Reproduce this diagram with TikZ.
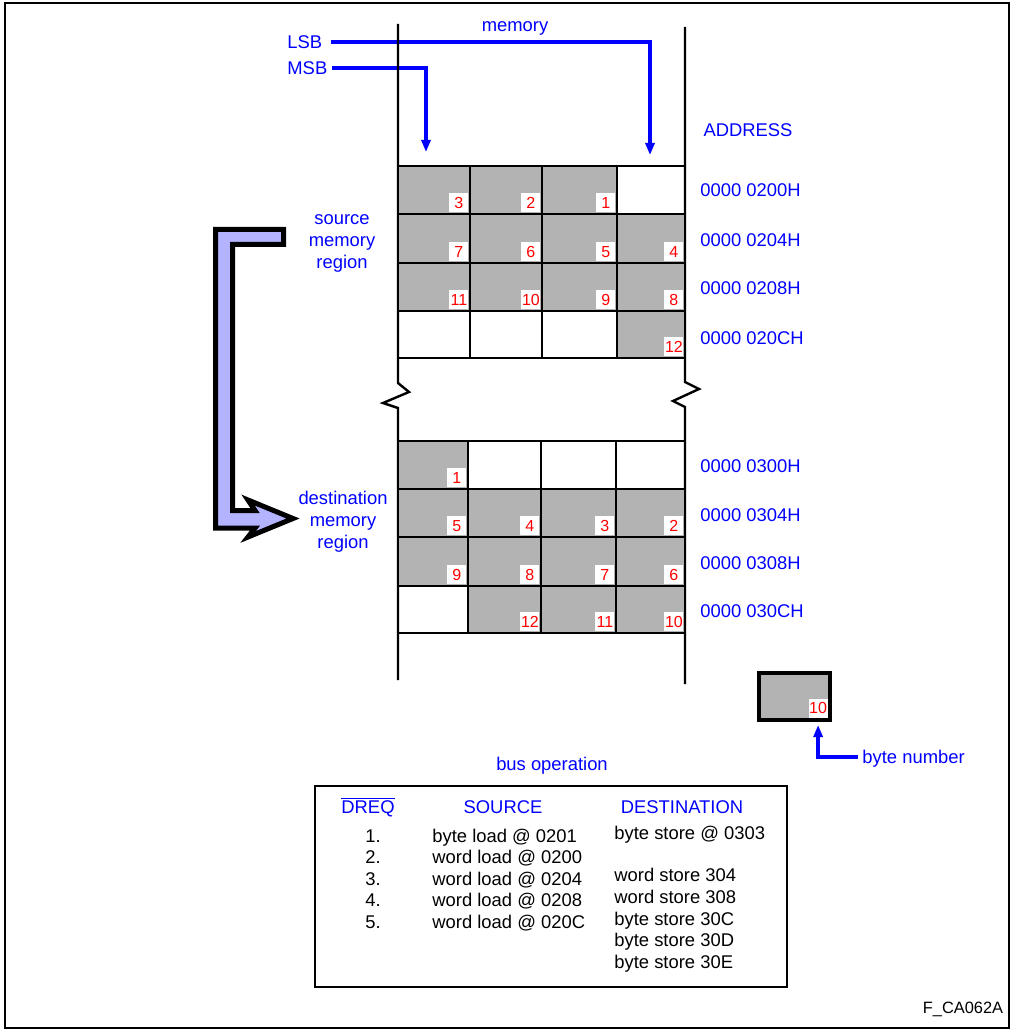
\documentclass[tikz,border=0pt]{standalone}
\usepackage{fontspec}
\setmainfont{Liberation Sans}
\usetikzlibrary{arrows.meta}
\definecolor{cellgray}{RGB}{179,179,179}
\definecolor{arrowfill}{RGB}{179,179,255}
\tikzset{
  lbl/.style={font=\fontsize{9.2}{11}\selectfont, blue, inner sep=0pt, text height=6.6pt, text depth=0pt},
  tabtext/.style={font=\fontsize{9.2}{11}\selectfont, black, inner sep=0pt, text height=6.6pt, text depth=0pt},
  bytelbl/.style={font=\fontsize{8}{9}\selectfont, red, fill=white, inner sep=0pt,
    minimum width=9.5pt, minimum height=9.5pt, anchor=south east},
  memline/.style={line width=1.2pt},
  ptr/.style={blue, line width=1.7pt, -{Triangle[length=6pt,width=4.5pt]}},
}

\begin{document}
\begin{tikzpicture}[x=0.5pt, y=-0.5pt]
\useasboundingbox (0,0) rectangle (1011,1031);
\draw[line width=1pt] (5,3) rectangle (1009,1028);

% Pointers LSB / MSB
\node[lbl] (mem) at (515,25) {memory};
\node[lbl, anchor=west] (lsb) at (287,42) {LSB};
\node[lbl, anchor=west] (msb) at (287,68) {MSB};
\coordinate (lsbend) at (650,155);
\coordinate (msbend) at (426,152);
\draw[ptr, shorten <=4pt] (lsb.east) -| (lsbend);
\draw[ptr, shorten <=2pt] (msb.east) -| (msbend);

% Memory column with break
\draw[memline] (398,24) -- (398,383) -- (409,392) -- (383,403) -- (398,408) -- (398,680);
\draw[memline] (685,27) -- (685,382) -- (699,389) -- (673,401) -- (685,407) -- (685,684);
\foreach \y in {166,214,263,311,358,441,489,537,586,633}
  \draw[memline] (398,\y) -- (685,\y);
\foreach \x in {470,542,617} \draw[memline] (\x,166) -- (\x,358);
\foreach \x in {468,541,616} \draw[memline] (\x,441) -- (\x,633);

% Source bytes
\foreach \xa/\xb/\ya/\yb/\n in {398/470/166/214/3, 470/542/166/214/2, 542/617/166/214/1,
    398/470/214/263/7, 470/542/214/263/6, 542/617/214/263/5, 617/685/214/263/4,
    398/470/263/311/11, 470/542/263/311/10, 542/617/263/311/9, 617/685/263/311/8,
    617/685/311/358/12}
{
  \fill[cellgray] (\xa+1.2,\ya+1.2) rectangle (\xb-1.2,\yb-1.2);
  \node[bytelbl] (s\n) at (\xb-1.2,\yb-1.2) {\n};
}

% Destination bytes
\foreach \xa/\xb/\ya/\yb/\n in {398/468/441/489/1,
    398/468/489/537/5, 468/541/489/537/4, 541/616/489/537/3, 616/685/489/537/2,
    398/468/537/586/9, 468/541/537/586/8, 541/616/537/586/7, 616/685/537/586/6,
    468/541/586/633/12, 541/616/586/633/11, 616/685/586/633/10}
{
  \fill[cellgray] (\xa+1.2,\ya+1.2) rectangle (\xb-1.2,\yb-1.2);
  \node[bytelbl] (d\n) at (\xb-1.2,\yb-1.2) {\n};
}

% Addresses
\node[lbl] (addr) at (748,130) {ADDRESS};
\foreach \a/\y in {0200H/190, 0204H/240, 0208H/288, 020CH/338, 0300H/466, 0304H/515, 0308H/563, 030CH/611}
  \node[lbl, anchor=west] (a\a) at (700,\y) {0000 \a};

% Regions and transfer arrow
\node[lbl, align=center] (srcreg) at (342,262) {source\\memory\\region};
\node[lbl, align=center] (dstreg) at (343,542) {destination\\memory\\region};
\draw[line width=2.5pt, fill=arrowfill, line join=miter]
  (215.5,229.5) -- (283.5,229.5) -- (283.5,244.5) -- (232.5,244.5) -- (232.5,510.5)
  -- (255,510.5) -- (248,500) -- (293,518.5) -- (248,537) -- (255,528) -- (215.5,528) -- cycle;

% Byte number legend
\draw[line width=2pt, fill=cellgray] (759,673) rectangle (830,720);
\node[bytelbl] (bn) at (828,718) {10};
\node[lbl, anchor=west] (bytenum) at (862,757) {byte number};
\draw[ptr, shorten <=2pt, shorten >=3.5pt] (bytenum.west) -| (bn.south);

% Bus operation table
\node[lbl] (busop) at (552,764) {bus operation};
\draw[line width=1.2pt] (315,786) rectangle (787,987);
\node[lbl] (dreq) at (368,807) {$\overline{\hbox{DREQ}}$};
\node[lbl] (srchd) at (503,807) {SOURCE};
\node[lbl] (dsthd) at (682,807) {DESTINATION};
\foreach \n/\y in {1/836, 2/857, 3/879, 4/900, 5/922}
  \node[tabtext] (q\n) at (373,\y) {\n.};
\foreach \t/\y [count=\i] in {byte load @ 0201/836, word load @ 0200/857, word load @ 0204/879,
    word load @ 0208/900, word load @ 020C/922}
  \node[tabtext, anchor=west] (ld\i) at (432,\y) {\t};
\foreach \t/\y [count=\i] in {byte store @ 0303/833, word store 304/875, word store 308/897,
    byte store 30C/919, byte store 30D/940, byte store 30E/962}
  \node[tabtext, anchor=west] (st\i) at (614,\y) {\t};

\node[tabtext, font=\fontsize{8.2}{10}\selectfont] (figid) at (963,1007) {F\_CA062A};
\end{tikzpicture}
\end{document}
